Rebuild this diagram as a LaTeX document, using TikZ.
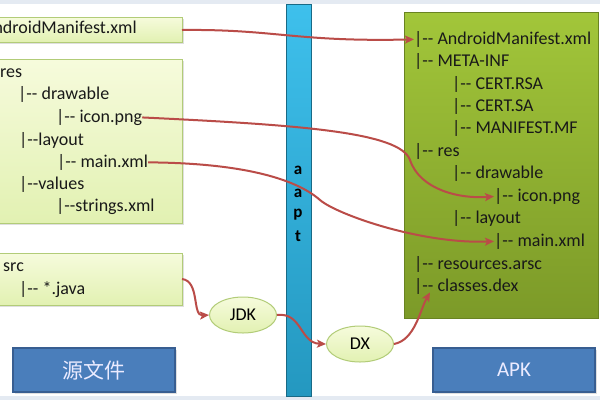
\documentclass[tikz,border=0pt]{standalone}
\usepackage{fontspec}
\setmainfont{Carlito}[Ligatures=TeXOff]
\newfontfamily\cjk{Noto Sans CJK SC}
\usetikzlibrary{arrows.meta,shapes.geometric,shadows,calc}
\definecolor{arrowred}{RGB}{186,76,72}
\definecolor{lbtop}{RGB}{246,251,220}
\definecolor{lbbot}{RGB}{226,241,178}
\definecolor{lbdraw}{RGB}{178,204,120}
\definecolor{gtop}{RGB}{162,198,58}
\definecolor{gbot}{RGB}{124,154,40}
\definecolor{ctop}{RGB}{62,192,236}
\definecolor{cbot}{RGB}{36,152,192}
\definecolor{bluefill}{RGB}{74,126,187}
\definecolor{bluedraw}{RGB}{56,94,145}
\definecolor{edge}{RGB}{228,234,242}
\begin{document}
\begin{tikzpicture}[x=1pt,y=-1pt,
  lbox/.style={draw=lbdraw,line width=1pt,top color=lbtop,bottom color=lbbot,
    drop shadow={shadow xshift=1.5pt,shadow yshift=-1.5pt,opacity=0.25}},
  ftxt/.style={font=\fontsize{18}{21}\selectfont,inner sep=0pt,anchor=mid west,text=black!90},
  oval/.style={ellipse,draw=lbdraw,line width=1pt,top color=lbtop,bottom color=lbbot,
    minimum width=67pt,minimum height=36pt,inner sep=0pt,font=\fontsize{18}{21}\selectfont},
  bbox/.style={draw=bluedraw,line width=1.5pt,fill=bluefill,minimum width=162pt,minimum height=44pt,
    inner sep=0pt,text=white!92!blue,font=\fontsize{21}{24}\selectfont,
    drop shadow={shadow xshift=1.5pt,shadow yshift=-1.5pt,opacity=0.25}},
  conn/.style={draw=arrowred,line width=2pt,-{Stealth[length=9pt,width=8pt,inset=2pt]}},
  barl/.style={font=\bfseries\fontsize{17}{20}\selectfont,inner sep=0pt}
]
\useasboundingbox (0,0) rectangle (600,400);
\clip (0,0) rectangle (600,400);
\fill[white] (0,0) rectangle (600,400);
\fill[edge] (0,0) rectangle (600,4);
\fill[edge] (0,396) rectangle (600,400);

% left boxes
\path[lbox] (-60,17) rectangle (182,42);
\path[lbox] (-60,59) rectangle (182,223);
\path[lbox] (-60,253) rectangle (182,305);
\coordinate (b1e) at (182,30);
\coordinate (b3e) at (182,279);

\node[ftxt,anchor=mid east] (lman) at (137,31) {AndroidManifest.xml};
\node[ftxt] (lres) at (0,75) {res};
\node[ftxt] (ldraw) at (18,97) {|-- drawable};
\node[ftxt] (licon) at (56,120) {|-- icon.png};
\node[ftxt] (llay) at (19,143) {|--layout};
\node[ftxt] (lmain) at (57,165) {|-- main.xml};
\node[ftxt] (lval) at (19,187) {|--values};
\node[ftxt] (lstr) at (56,209) {|--strings.xml};
\node[ftxt] (lsrc) at (3,269) {src};
\node[ftxt] (ljava) at (19,292) {|-- *.java};

% aapt bar
\path[draw=cbot!70!black,line width=0.6pt,top color=ctop,bottom color=cbot] (286,4) rectangle (311,396);
\node[barl] (ba1) at (298,170) {a};
\node[barl] (ba2) at (298,193) {a};
\node[barl] (bp) at (298,215) {p};
\node[barl] (bt) at (298,236) {t};

% APK green box
\path[draw=gbot!85!black,line width=0.6pt,top color=gtop,bottom color=gbot] (404,12) rectangle (598,318);
\node[ftxt] (rman) at (414,42) {|-- AndroidManifest.xml};
\node[ftxt] (rmeta) at (414,64) {|-- META-INF};
\node[ftxt] (rrsa) at (452,87) {|-- CERT.RSA};
\node[ftxt] (rsa) at (452,109) {|-- CERT.SA};
\node[ftxt] (rmf) at (452,131) {|-- MANIFEST.MF};
\node[ftxt] (rres) at (414,154) {|-- res};
\node[ftxt] (rdraw) at (452,176) {|-- drawable};
\node[ftxt] (ricon) at (494,199) {|-- icon.png};
\node[ftxt] (rlay) at (452,221) {|-- layout};
\node[ftxt] (rmain) at (494,244) {|-- main.xml};
\node[ftxt] (rarsc) at (414,267) {|-- resources.arsc};
\node[ftxt] (rdex) at (414,289) {|-- classes.dex};

% ellipses
\node[oval] (jdk) at (243,315) {JDK};
\node[oval] (dx) at (360,344) {DX};

% blue label boxes
\node[bbox] (src) at (94,370) {\cjk 源文件};
\node[bbox] (apk) at (514,370) {APK};

% connectors
\coordinate (a2m) at (410,160);
\coordinate (a3m) at (320,200);
\draw[conn] (b1e) .. controls (275,29) and (295,42) .. (rman.west);
\draw[conn] (licon.east) .. controls (300,125) and (400,132) .. (a2m) .. controls (420,190) and (460,199) .. (ricon.west);
\draw[conn] (lmain.east) .. controls (240,163) and (295,178) .. (a3m) .. controls (336,214) and (420,244) .. (rmain.west);
\draw[conn] (b3e) .. controls (200,281) and (192,316) .. (jdk.west);
\draw[conn] (jdk.east) .. controls (302,312) and (300,343) .. (dx.west);
\draw[conn] (dx.east) .. controls (415,340) and (420,310) .. ($(rdex.west)+(16,6)$);
\end{tikzpicture}
\end{document}
